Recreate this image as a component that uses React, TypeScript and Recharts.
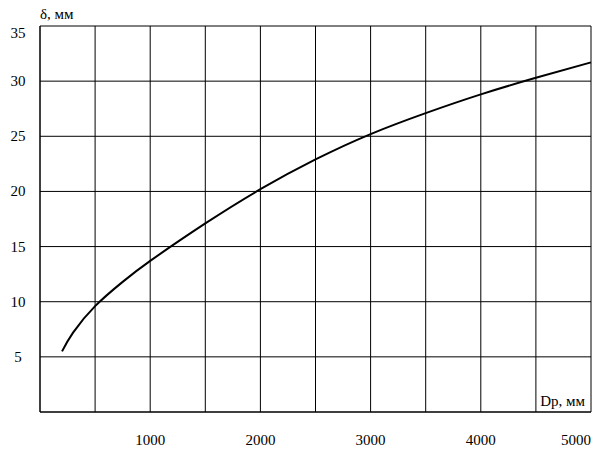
import React from 'react';
import { LineChart, Line, XAxis, YAxis, CartesianGrid } from 'recharts';

const diameters = [200, 300, 500, 750, 1000, 1500, 2000, 2500, 3000, 3500, 4000, 4500, 5000];
const thickness = [5.5, 7.2, 9.6, 11.8, 13.7, 17.1, 20.2, 22.9, 25.2, 27.1, 28.8, 30.3, 31.7];
const xTicks = [0, 500, 1000, 1500, 2000, 2500, 3000, 3500, 4000, 4500, 5000];
const yTicks = [0, 5, 10, 15, 20, 25, 30, 35];

const data = diameters.map((d, i) => ({ d, t: thickness[i] }));

const FONT = '"Liberation Serif", "Times New Roman", serif';

const XTick = (props: any) => {
  const { x, y, payload } = props;
  const v = payload.value;
  if (v % 1000 !== 0 || v === 0) return null;
  const isLast = v === 5000;
  return (
    <text x={x} y={y + 25} textAnchor={isLast ? 'end' : 'middle'} fontFamily={FONT} fontSize={15} fill="#000">
      {v}
    </text>
  );
};

const YTick = (props: any) => {
  const { y, payload } = props;
  const v = payload.value;
  if (v === 0) return null;
  const dy = v === 35 ? 7 : 0;
  return (
    <text x={18} y={y + dy + 5} textAnchor="middle" fontFamily={FONT} fontSize={15} fill="#000">
      {v}
    </text>
  );
};

export default function App() {
  return (
    <div style={{ position: 'absolute', left: 0, top: 0, width: 600, height: 451, background: '#fff' }}>
      <LineChart width={600} height={451} data={data} margin={{ top: 26, right: 9, bottom: 0, left: 0 }}>
        <CartesianGrid stroke="#000" strokeWidth={1} />
        <XAxis
          dataKey="d"
          type="number"
          domain={[0, 5000]}
          ticks={xTicks}
          height={39}
          tickLine={false}
          axisLine={{ stroke: '#000' }}
          tick={<XTick />}
          interval={0}
          label={{
            content: (p: any) => {
              const vb = p.viewBox;
              return (
                <text x={vb.x + vb.width - 6} y={vb.y - 6} textAnchor="end" fontFamily={FONT} fontSize={15} fill="#000">
                  Dp, мм
                </text>
              );
            },
          }}
        />
        <YAxis
          type="number"
          domain={[0, 35]}
          ticks={yTicks}
          width={40}
          tickLine={false}
          axisLine={{ stroke: '#000' }}
          tick={<YTick />}
          interval={0}
          label={{
            content: (p: any) => {
              const vb = p.viewBox;
              return (
                <text x={vb.x + vb.width} y={vb.y - 7} textAnchor="start" fontFamily={FONT} fontSize={15} fill="#000">
                  δ, мм
                </text>
              );
            },
          }}
        />
        <Line type="natural" dataKey="t" stroke="#000" strokeWidth={2} dot={false} isAnimationActive={false} />
      </LineChart>
    </div>
  );
}
